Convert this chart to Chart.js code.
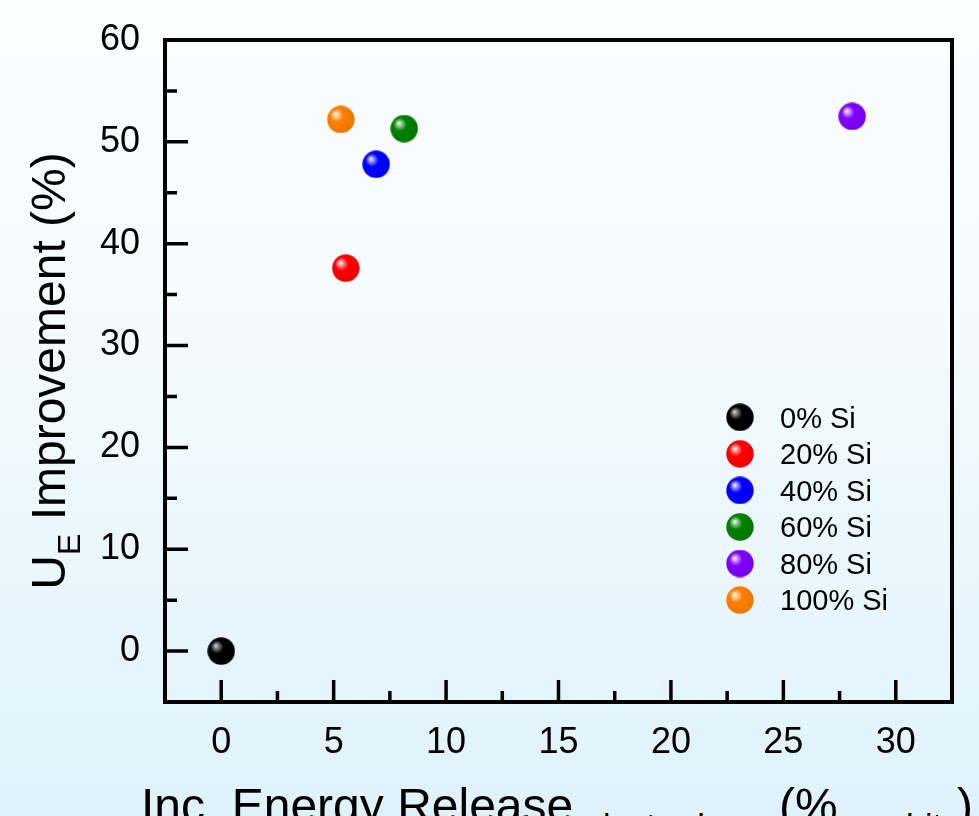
<!DOCTYPE html>
<html>
<head>
<meta charset="utf-8">
<script src="https://cdn.jsdelivr.net/npm/chart.js@4.4.1/dist/chart.umd.min.js"></script>
<style>
  html, body { margin: 0; padding: 0; }
  body {
    width: 979px; height: 816px; overflow: hidden;
    background: linear-gradient(to bottom, #fbfdff 0%, #f5fbfe 35%, #ebf7fd 65%, #dff2fb 100%);
  }
  #c { display: block; }
</style>
</head>
<body>
<canvas id="c" width="979" height="816"></canvas>
<script>
// ---- data ----
const seriesLabels = ['0% Si', '20% Si', '40% Si', '60% Si', '80% Si', '100% Si'];
const energyRelease = [0, 5.54, 6.89, 8.14, 28.06, 5.32];     // x values (%)
const ueImprovement = [0, 37.6, 47.8, 51.3, 52.5, 52.2];       // y values (%)
const seriesColors = ['#000000', '#ff0000', '#0000ff', '#008000', '#8000ff', '#ff8000'];
const xTickValues = [0, 5, 10, 15, 20, 25, 30];
const yTickValues = [0, 10, 20, 30, 40, 50, 60];

const FONT = "'Liberation Sans', Arial, Helvetica, sans-serif";

function mix(hex, target, t) {
  const p = h => [parseInt(h.substr(1,2),16), parseInt(h.substr(3,2),16), parseInt(h.substr(5,2),16)];
  const a = p(hex), b = p(target);
  return 'rgb(' + a.map((v,i) => Math.round(v + (b[i]-v)*t)).join(',') + ')';
}

function makeSphere(color) {
  const d = 28, r = 13.7;
  const cv = document.createElement('canvas');
  cv.width = d; cv.height = d;
  const g = cv.getContext('2d');
  const cx = d/2, cy = d/2;
  const grad = g.createRadialGradient(cx - r*0.4, cy - r*0.4, 0, cx - r*0.15, cy - r*0.15, r*1.2);
  const isBlack = color === '#000000';
  grad.addColorStop(0, isBlack ? '#e0e0e0' : '#ffffff');
  grad.addColorStop(0.15, mix(color, '#ffffff', isBlack ? 0.5 : 0.6));
  grad.addColorStop(0.4, color);
  grad.addColorStop(1, mix(color, '#000000', 0.08));
  g.fillStyle = grad;
  g.beginPath();
  g.arc(cx, cy, r, 0, Math.PI*2);
  g.fill();
  return cv;
}

const sphereImages = seriesColors.map(makeSphere);

const datasets = seriesLabels.map((lab, i) => ({
  label: lab,
  data: [{ x: energyRelease[i], y: ueImprovement[i] }],
  pointStyle: sphereImages[i],
  pointRadius: 14,
  pointHoverRadius: 14,
  backgroundColor: seriesColors[i],
  borderColor: seriesColors[i]
}));

const framePlugin = {
  id: 'frame',
  afterDraw(chart) {
    const ctx = chart.ctx;
    const a = chart.chartArea;
    const xs = chart.scales.x, ys = chart.scales.y;
    ctx.save();
    ctx.strokeStyle = '#000';
    // inward ticks
    ctx.lineWidth = 3.5;
    ctx.lineCap = 'butt';
    ctx.beginPath();
    xs.ticks.forEach(t => {
      const px = xs.getPixelForValue(t.value);
      ctx.moveTo(px, a.bottom); ctx.lineTo(px, a.bottom - 22);
      const mv = t.value + 2.5;
      if (mv < xs.max) {
        const mp = xs.getPixelForValue(mv);
        ctx.moveTo(mp, a.bottom); ctx.lineTo(mp, a.bottom - 11);
      }
    });
    ys.ticks.forEach(t => {
      const py = ys.getPixelForValue(t.value);
      ctx.moveTo(a.left, py); ctx.lineTo(a.left + 23, py);
      const mv = t.value + 5;
      if (mv < ys.max) {
        const mp = ys.getPixelForValue(mv);
        ctx.moveTo(a.left, mp); ctx.lineTo(a.left + 12, mp);
      }
    });
    ctx.stroke();
    // box
    ctx.lineWidth = 4;
    ctx.lineJoin = 'miter';
    ctx.strokeRect(a.left, a.top, a.right - a.left, a.bottom - a.top);

    // legend
    ctx.fillStyle = '#000';
    ctx.font = '29px ' + FONT;
    ctx.textAlign = 'left';
    ctx.textBaseline = 'alphabetic';
    chart.data.datasets.forEach((ds, i) => {
      const cy = 417.3 + i * 36.55;
      const img = ds.pointStyle;
      ctx.drawImage(img, 740 - img.width/2, cy - img.height/2);
      ctx.fillText(ds.label, 780, cy + 29*0.358);
    });

    // y title
    ctx.save();
    const mainF = '48px ' + FONT, subF = '32px ' + FONT;
    ctx.font = mainF; const wU = ctx.measureText('U').width;
    const wRest = ctx.measureText(' Improvement (%)').width;
    ctx.font = subF; const wE = ctx.measureText('E').width;
    const W = wU + wE + wRest;
    const cyT = (a.top + a.bottom) / 2;
    ctx.translate(65, cyT + W/2);
    ctx.rotate(-Math.PI/2);
    ctx.font = mainF; ctx.fillText('U', 0, 0);
    ctx.font = subF; ctx.fillText('E', wU, 15);
    ctx.font = mainF; ctx.fillText(' Improvement (%)', wU + wE, 0);
    ctx.restore();

    // x title (partly below the picture edge)
    const base = 822;
    ctx.font = mainF; ctx.fillText('Inc. Energy Release', 141, base);
    ctx.font = '34px ' + FONT; ctx.fillText('electrode', 584, base + 15);
    ctx.font = mainF; ctx.fillText('(%', 779, base);
    ctx.font = '34px ' + FONT; ctx.fillText('graphite', 838, base + 15);
    ctx.font = mainF; ctx.fillText(')', 957, base);
    ctx.restore();
  }
};

new Chart(document.getElementById('c'), {
  type: 'scatter',
  data: { datasets },
  options: {
    responsive: false,
    animation: false,
    devicePixelRatio: 1,
    layout: { padding: { left: 0, right: 27, top: 40, bottom: 0 } },
    plugins: { legend: { display: false }, tooltip: { enabled: false } },
    scales: {
      x: {
        type: 'linear', min: -2.5, max: 32.5,
        afterBuildTicks(s) { s.ticks = xTickValues.map(v => ({ value: v })); },
        afterFit(s) { s.height = 114; s.paddingLeft = 0; s.paddingRight = 0; },
        ticks: { font: { size: 36, family: FONT }, color: '#000', padding: 19, maxRotation: 0, autoSkip: false },
        grid: { display: false, drawTicks: false },
        border: { display: false }
      },
      y: {
        type: 'linear', min: -5, max: 60,
        afterBuildTicks(s) { s.ticks = yTickValues.map(v => ({ value: v })); },
        afterFit(s) { s.width = 165; s.paddingTop = 0; s.paddingBottom = 0; },
        ticks: { font: { size: 36, family: FONT }, color: '#000', padding: 25, autoSkip: false },
        grid: { display: false, drawTicks: false },
        border: { display: false }
      }
    }
  },
  plugins: [framePlugin]
});
</script>
</body>
</html>
